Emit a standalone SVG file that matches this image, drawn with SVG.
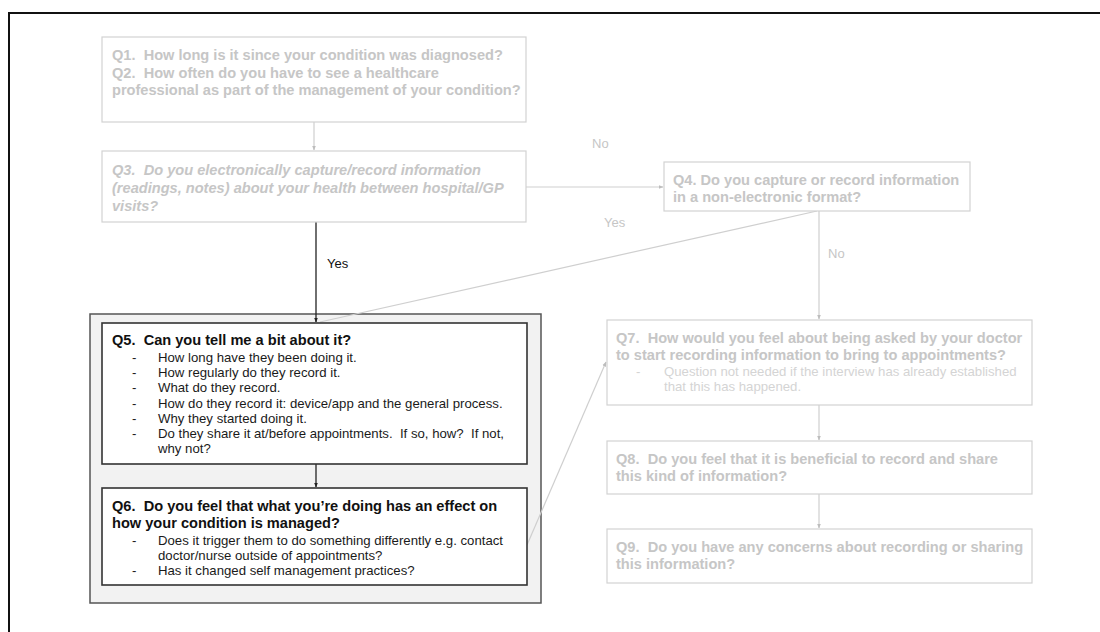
<svg xmlns="http://www.w3.org/2000/svg" width="1100" height="632" viewBox="0 0 1100 632">
  <style>
    text { font-family: "Liberation Sans", Arial, sans-serif; white-space: pre; }
    .q { font-size: 14.6px; font-weight: bold; }
    .dim { fill: #c6c6c6; }
    .dimlight { fill: #d4d4d4; }
    .dark { fill: #111111; }
    .b { font-size: 13.2px; }
    .lbl { font-size: 13px; }
    .box-dim { fill: #ffffff; stroke: #d2d2d2; stroke-width: 1.2; }
    .box-dark { fill: #ffffff; stroke: #333333; stroke-width: 1.6; }
    .conn-dim { stroke: #cfcfcf; stroke-width: 1.2; fill: none; }
    .conn-dark { stroke: #222222; stroke-width: 1.3; fill: none; }
  </style>
  <defs>
    <marker id="ahDim" viewBox="0 0 10 10" refX="9" refY="5" markerWidth="5" markerHeight="5" orient="auto" markerUnits="userSpaceOnUse">
      <path d="M0,1 L10,5 L0,9 Z" fill="#bdbdbd"/>
    </marker>
    <marker id="ahDark" viewBox="0 0 10 10" refX="9" refY="5" markerWidth="5" markerHeight="5" orient="auto" markerUnits="userSpaceOnUse">
      <path d="M0,1 L10,5 L0,9 Z" fill="#222222"/>
    </marker>
  </defs>

  <rect x="0" y="0" width="1100" height="632" fill="#ffffff"/>

  <!-- page frame -->
  <path d="M9,632 L9,13 L1100,13" fill="none" stroke="#111111" stroke-width="2"/>

  <!-- grouping panel behind Q5 and Q6 -->
  <rect id="panel" x="90" y="314" width="451" height="289" fill="#f2f2f2" stroke="#555555" stroke-width="1.5"/>

  <!-- connectors -->
  <g id="connectors">
    <line class="conn-dim" x1="314" y1="122" x2="314" y2="150" marker-end="url(#ahDim)"/>
    <line class="conn-dim" x1="526" y1="187" x2="663" y2="187" marker-end="url(#ahDim)"/>
    <line class="conn-dark" x1="316" y1="222" x2="316" y2="322" marker-end="url(#ahDark)"/>
    <line class="conn-dim" x1="817" y1="211" x2="320" y2="322"/>
    <line class="conn-dim" x1="819" y1="211" x2="819" y2="319" marker-end="url(#ahDim)"/>
    <line class="conn-dark" x1="316" y1="464" x2="316" y2="487" marker-end="url(#ahDark)"/>
    <line class="conn-dim" x1="527" y1="545" x2="606" y2="362" marker-end="url(#ahDim)"/>
    <line class="conn-dim" x1="819" y1="405" x2="819" y2="440" marker-end="url(#ahDim)"/>
    <line class="conn-dim" x1="819" y1="494" x2="819" y2="528" marker-end="url(#ahDim)"/>
    <text class="lbl dim" x="592" y="148">No</text>
    <text class="lbl dim" x="604" y="227">Yes</text>
    <text class="lbl dim" x="828" y="258">No</text>
    <text class="lbl dark" x="327" y="268">Yes</text>
  </g>

  <g id="q1">
    <rect class="box-dim" x="102" y="37" width="424" height="85"/>
    <text class="q dim" x="112" y="60">Q1.  How long is it since your condition was diagnosed?</text>
    <text class="q dim" x="112" y="77.5">Q2.  How often do you have to see a healthcare</text>
    <text class="q dim" x="112" y="95">professional as part of the management of your condition?</text>
  </g>

  <g id="q3">
    <rect class="box-dim" x="102" y="151" width="424" height="71"/>
    <text class="q dim" font-style="italic" x="112" y="175">Q3.  Do you electronically capture/record information</text>
    <text class="q dim" font-style="italic" x="112" y="193">(readings, notes) about your health between hospital/GP</text>
    <text class="q dim" font-style="italic" x="112" y="211">visits?</text>
  </g>

  <g id="q4">
    <rect class="box-dim" x="664" y="162" width="306" height="49"/>
    <text class="q dim" x="673" y="185">Q4. Do you capture or record information</text>
    <text class="q dim" x="673" y="202">in a non-electronic format?</text>
  </g>

  <g id="q5">
    <rect class="box-dark" x="102" y="323" width="425" height="141"/>
    <text class="q dark" x="112" y="345">Q5.  Can you tell me a bit about it?</text>
    <g class="b" fill="#1a1a1a">
      <text x="132" y="362">-</text><text x="158" y="362">How long have they been doing it.</text>
      <text x="132" y="377">-</text><text x="158" y="377">How regularly do they record it.</text>
      <text x="132" y="392">-</text><text x="158" y="392">What do they record.</text>
      <text x="132" y="408">-</text><text x="158" y="408">How do they record it: device/app and the general process.</text>
      <text x="132" y="423">-</text><text x="158" y="423">Why they started doing it.</text>
      <text x="132" y="438">-</text><text x="158" y="438">Do they share it at/before appointments.  If so, how?  If not,</text>
      <text x="158" y="453">why not?</text>
    </g>
  </g>

  <g id="q6">
    <rect class="box-dark" x="102" y="488" width="425" height="97"/>
    <text class="q dark" x="112" y="511">Q6.  Do you feel that what you’re doing has an effect on</text>
    <text class="q dark" x="112" y="528">how your condition is managed?</text>
    <g class="b" fill="#1a1a1a">
      <text x="132" y="545">-</text><text x="158" y="545">Does it trigger them to do something differently e.g. contact</text>
      <text x="158" y="560">doctor/nurse outside of appointments?</text>
      <text x="132" y="575">-</text><text x="158" y="575">Has it changed self management practices?</text>
    </g>
  </g>

  <g id="q7">
    <rect class="box-dim" x="607" y="320" width="425" height="85"/>
    <text class="q dim" x="616" y="343">Q7.  How would you feel about being asked by your doctor</text>
    <text class="q dim" x="616" y="360">to start recording information to bring to appointments?</text>
    <text class="b dimlight" x="636" y="376">-</text>
    <text class="b dimlight" x="664" y="376">Question not needed if the interview has already established</text>
    <text class="b dimlight" x="664" y="391">that this has happened.</text>
  </g>

  <g id="q8">
    <rect class="box-dim" x="607" y="441" width="425" height="53"/>
    <text class="q dim" x="616" y="464">Q8.  Do you feel that it is beneficial to record and share</text>
    <text class="q dim" x="616" y="481">this kind of information?</text>
  </g>

  <g id="q9">
    <rect class="box-dim" x="607" y="529" width="425" height="54"/>
    <text class="q dim" x="616" y="552">Q9.  Do you have any concerns about recording or sharing</text>
    <text class="q dim" x="616" y="569">this information?</text>
  </g>
</svg>
